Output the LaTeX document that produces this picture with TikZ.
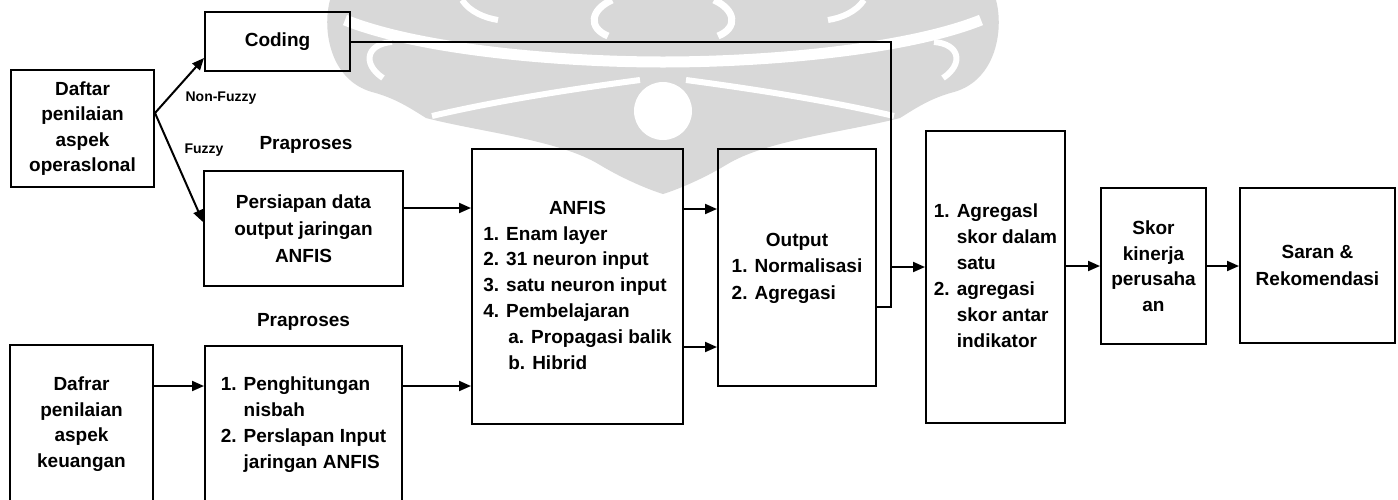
\documentclass[tikz,border=0pt]{standalone}
\usepackage{fontspec}
\setmainfont{Liberation Sans}
\usetikzlibrary{arrows.meta}
\definecolor{wm}{RGB}{216,216,216}
\begin{document}
\begin{tikzpicture}[x=1pt,y=-1pt,
  box/.style={draw, line width=2pt, inner sep=0pt, align=center,
    font=\bfseries\fontsize{19}{25.5}\selectfont},
  lbl/.style={font=\bfseries\fontsize{19}{22}\selectfont},
  small/.style={font=\bfseries\fontsize{14}{16}\selectfont},
  link/.style={line width=2pt},
  arr/.style={line width=2pt, -{Triangle[length=12pt,width=10pt]}}]
\clip (0,0) rectangle (1398,499);
\fill[white] (0,0) rectangle (1398,499);

% background ornament
\fill[wm] (330,0) .. controls (322,30) and (330,80) .. (372,92)
  .. controls (395,98) and (410,108) .. (426,118)
  .. controls (480,132) and (560,140) .. (600,165)
  .. controls (625,180) and (650,190) .. (663,194)
  .. controls (676,190) and (701,180) .. (726,165)
  .. controls (766,140) and (846,132) .. (900,118)
  .. controls (916,108) and (931,98) .. (954,92)
  .. controls (996,80) and (1004,30) .. (996,0) -- cycle;
\draw[white, line width=11pt] (345,20) .. controls (420,50) and (560,62) .. (663,62)
  .. controls (766,62) and (906,50) .. (981,20);
\draw[white, line width=6pt] (640,80) .. controls (580,88) and (500,100) .. (432,116);
\draw[white, line width=6pt] (686,80) .. controls (746,88) and (826,100) .. (894,116);
\fill[white] (663,111) circle (29);
\draw[white, line width=6pt] (383,78) .. controls (362,64) and (366,44) .. (392,42);
\draw[white, line width=6pt] (943,78) .. controls (964,64) and (960,44) .. (934,42);
\draw[white, line width=7pt] (612,0) .. controls (590,10) and (588,28) .. (608,36);
\draw[white, line width=7pt] (714,0) .. controls (736,10) and (738,28) .. (718,36);
\draw[white, line width=6pt] (462,0) .. controls (470,12) and (485,18) .. (498,20);
\draw[white, line width=6pt] (864,0) .. controls (856,12) and (841,18) .. (828,20);

% boxes
\node[box, minimum width=143pt, minimum height=117pt] (dop) at (82.5,128.5)
  {Daftar\\penilaian\\aspek\\operaslonal};
\node[box, minimum width=145pt, minimum height=59pt] (coding) at (277.5,41.5) {Coding};
\node[box, minimum width=199pt, minimum height=115pt, font=\bfseries\fontsize{19}{27}\selectfont]
  (persiapan) at (303.5,228.5) {Persiapan data\\output jaringan\\ANFIS};
\node[box, minimum width=143pt, minimum height=158pt] (dkeu) at (81.5,424)
  {Dafrar\\penilaian\\aspek\\keuangan};
\node[box, minimum width=197pt, minimum height=157pt, font=\bfseries\fontsize{19}{26}\selectfont]
  (prap) at (303.5,424.5)
  {\begin{tabular}{@{}l@{}}1. Penghitungan\\\phantom{1. }nisbah\\2. Perslapan Input\\\phantom{2. }jaringan ANFIS\end{tabular}};
\node[box, minimum width=211pt, minimum height=275pt, font=\bfseries\fontsize{19}{25.8}\selectfont]
  (anfis) at (577.5,286.5)
  {\begin{tabular}{@{}l@{}}\multicolumn{1}{@{}c@{}}{ANFIS}\\1. Enam layer\\2. 31 neuron input\\3. satu neuron input\\4. Pembelajaran\\\hspace*{25pt}a. Propagasi balik\\\hspace*{25pt}b. Hibrid\end{tabular}};
\node[box, minimum width=158pt, minimum height=237pt, font=\bfseries\fontsize{19}{26.5}\selectfont]
  (output) at (797,267.5)
  {\begin{tabular}{@{}l@{}}\multicolumn{1}{@{}c@{}}{Output}\\1. Normalisasi\\2. Agregasi\end{tabular}};
\node[box, minimum width=139pt, minimum height=292pt, font=\bfseries\fontsize{19}{26}\selectfont]
  (agreg) at (995.5,277)
  {\begin{tabular}{@{}l@{}}1. Agregasl\\\phantom{1. }skor dalam\\\phantom{1. }satu\\2. agregasi\\\phantom{2. }skor antar\\\phantom{2. }indikator\end{tabular}};
\node[box, minimum width=105pt, minimum height=156pt] (skor) at (1153.5,266)
  {Skor\\kinerja\\perusaha\\an};
\node[box, minimum width=155pt, minimum height=155pt, font=\bfseries\fontsize{19}{27}\selectfont]
  (saran) at (1317.5,265.5) {Saran \&\\Rekomendasi};

% labels
\node[small] (nf) at (221,98) {Non-Fuzzy};
\node[small] (fz) at (204,150) {Fuzzy};
\node[lbl] (pp1) at (306,145) {Praproses};
\node[lbl] (pp2) at (303.5,322) {Praproses};

% connectors
\coordinate (fork) at ([yshift=15.5pt]dop.east);
\draw[arr] (fork) -- ([yshift=-16.5pt]coding.west);
\draw[arr] (fork) -- ([yshift=6.5pt]persiapan.west);
\draw[arr] ([yshift=20.5pt]persiapan.east) -- ([yshift=20.5pt]persiapan.east -| anfis.west);
\draw[arr] ([yshift=38pt]dkeu.east) -- ([yshift=38pt]dkeu.east -| prap.west);
\draw[arr] ([yshift=38.5pt]prap.east) -- ([yshift=38.5pt]prap.east -| anfis.west);
\draw[arr] ([yshift=77.5pt]anfis.east) -- ([yshift=77.5pt]anfis.east -| output.west);
\draw[arr] ([yshift=-60.5pt]anfis.east) -- ([yshift=-60.5pt]anfis.east -| output.west);
\coordinate (bus) at (891,267);
\draw[link] (coding.east) -| ([yshift=-40pt]bus) -- ([yshift=-40pt]bus -| output.east);
\draw[arr] (bus) -- (bus -| agreg.west);
\draw[arr] (agreg.east |- skor.west) -- (skor.west);
\draw[arr] (skor.east) -- (skor.east -| saran.west);
\end{tikzpicture}
\end{document}
